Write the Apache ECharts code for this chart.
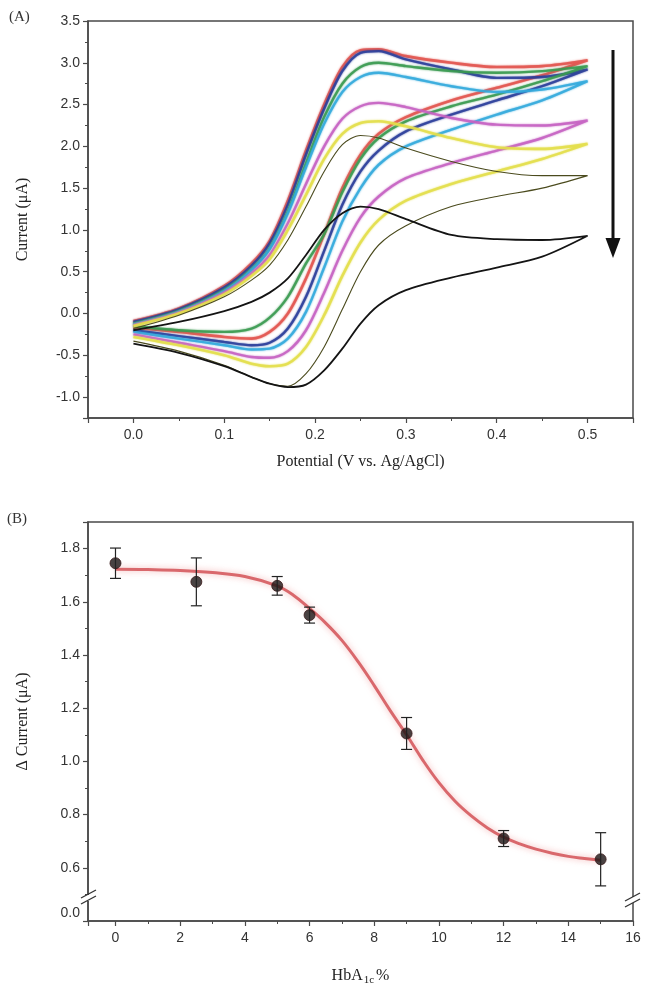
<!DOCTYPE html>
<html><head><meta charset="utf-8">
<script src="https://cdn.jsdelivr.net/npm/echarts@6/dist/echarts.min.js"></script>
<style>html,body{margin:0;padding:0;background:#fff}#c{width:646px;height:988px}</style>
</head><body><div id="c"></div>
<script>
// ---------- Panel A: cyclic voltammograms ----------
const vForward = [0, 0.05, 0.1, 0.13, 0.15, 0.17, 0.19, 0.21, 0.23, 0.25, 0.27, 0.3, 0.35, 0.4, 0.45, 0.5];
const vReverse = [0.45, 0.4, 0.35, 0.3, 0.27, 0.25, 0.23, 0.21, 0.19, 0.17, 0.15, 0.13, 0.1, 0.05, 0];

const cvNames = ['red', 'blue', 'green', 'cyan', 'magenta', 'yellow', 'olive', 'black'];
const cvColors = ['#e2554f', '#2a3d9a', '#3a9a50', '#33a9dc', '#c662c2', '#e3de4a', '#4b4b1e', '#141414'];
const cvWidths = [2.6, 2.4, 2.4, 2.4, 2.4, 2.6, 1.1, 1.8];

const fwdRed     = [-0.09, 0.06, 0.33, 0.6, 0.87, 1.35, 1.95, 2.5, 2.95, 3.15, 3.16, 3.08, 3.0, 2.95, 2.96, 3.03];
const fwdBlue    = [-0.1, 0.05, 0.31, 0.57, 0.84, 1.3, 1.9, 2.45, 2.9, 3.12, 3.14, 3.04, 2.92, 2.82, 2.83, 2.92];
const fwdGreen   = [-0.12, 0.03, 0.28, 0.53, 0.78, 1.22, 1.8, 2.35, 2.75, 2.95, 3.0, 2.96, 2.9, 2.88, 2.9, 2.96];
const fwdCyan    = [-0.13, 0.02, 0.27, 0.52, 0.77, 1.2, 1.75, 2.27, 2.65, 2.83, 2.88, 2.83, 2.72, 2.65, 2.68, 2.78];
const fwdMagenta = [-0.14, 0.01, 0.25, 0.48, 0.7, 1.08, 1.55, 2.0, 2.33, 2.48, 2.52, 2.47, 2.34, 2.26, 2.25, 2.31];
const fwdYellow  = [-0.15, 0.0, 0.23, 0.45, 0.65, 1.0, 1.42, 1.85, 2.15, 2.28, 2.3, 2.24, 2.1, 1.99, 1.97, 2.03];
const fwdOlive   = [-0.18, -0.02, 0.2, 0.4, 0.58, 0.88, 1.28, 1.7, 2.02, 2.13, 2.1, 1.98, 1.82, 1.7, 1.65, 1.65];
const fwdBlack   = [-0.2, -0.1, 0.03, 0.14, 0.25, 0.42, 0.7, 1.0, 1.2, 1.28, 1.25, 1.13, 0.94, 0.89, 0.88, 0.93];

const revRed     = [2.85, 2.7, 2.55, 2.35, 2.15, 1.9, 1.5, 0.95, 0.42, 0.0, -0.22, -0.3, -0.28, -0.22, -0.17];
const revBlue    = [2.72, 2.55, 2.38, 2.18, 1.95, 1.7, 1.3, 0.75, 0.2, -0.18, -0.35, -0.38, -0.34, -0.27, -0.2];
const revGreen   = [2.78, 2.62, 2.48, 2.3, 2.1, 1.85, 1.45, 0.95, 0.6, 0.2, -0.05, -0.18, -0.22, -0.2, -0.15];
const revCyan    = [2.55, 2.38, 2.2, 2.0, 1.78, 1.5, 1.1, 0.55, 0.02, -0.3, -0.42, -0.43, -0.38, -0.3, -0.22];
const revMagenta = [2.1, 1.95, 1.8, 1.62, 1.4, 1.15, 0.75, 0.25, -0.2, -0.45, -0.53, -0.52, -0.45, -0.35, -0.25];
const revYellow  = [1.85, 1.7, 1.55, 1.35, 1.12, 0.85, 0.45, -0.02, -0.4, -0.6, -0.63, -0.6, -0.5, -0.38, -0.28];
const revOlive   = [1.5, 1.4, 1.28, 1.05, 0.82, 0.5, 0.05, -0.4, -0.72, -0.87, -0.84, -0.76, -0.62, -0.45, -0.33];
const revBlack   = [0.68, 0.55, 0.43, 0.28, 0.1, -0.12, -0.42, -0.68, -0.85, -0.88, -0.84, -0.76, -0.63, -0.47, -0.36];

const cvForward = [fwdRed, fwdBlue, fwdGreen, fwdCyan, fwdMagenta, fwdYellow, fwdOlive, fwdBlack];
const cvReverse = [revRed, revBlue, revGreen, revCyan, revMagenta, revYellow, revOlive, revBlack];

// ---------- Panel B: calibration ----------
const hbX   = [0, 2.5, 5, 6, 9, 12, 15];
const hbY   = [1.745, 1.675, 1.66, 1.55, 1.105, 0.71, 0.632];
const hbErr = [0.057, 0.09, 0.035, 0.03, 0.06, 0.03, 0.1];

const fitX = [0, 1, 2, 3, 4, 5, 5.5, 6, 6.5, 7, 7.5, 8, 8.5, 9, 9.5, 10, 10.5, 11, 11.5, 12, 12.5, 13, 13.5, 14, 14.5, 15];
const fitY = [1.722, 1.721, 1.718, 1.71, 1.695, 1.66, 1.625, 1.575, 1.52, 1.455, 1.375, 1.285, 1.19, 1.1, 1.005, 0.92, 0.85, 0.795, 0.75, 0.715, 0.69, 0.67, 0.655, 0.643, 0.635, 0.628];

const bYTickValues = [0.4, 0.6, 0.8, 1.0, 1.2, 1.4, 1.6, 1.8];
const bYTickLabels = ['0.0', '0.6', '0.8', '1.0', '1.2', '1.4', '1.6', '1.8'];

// ---------- chart ----------
const chart = echarts.init(document.getElementById('c'), null, {renderer: 'canvas'});
const tickFont = {fontFamily: 'Liberation Sans, Arial, sans-serif', fontSize: 14, color: '#333'};
const serif = 'Liberation Serif, Times New Roman, serif';
const axisCol = '#4a4a4a';

function baseAxis(extra) {
  return Object.assign({
    axisLine: {show: true, onZero: false, lineStyle: {color: axisCol, width: 1.5}},
    axisTick: {show: true, inside: false, length: 5, lineStyle: {color: axisCol, width: 1.2}},
    minorTick: {show: true, splitNumber: 2, length: 3, lineStyle: {color: axisCol, width: 1}},
    splitLine: {show: false},
    nameTextStyle: {fontFamily: serif, fontSize: 16, color: '#222'}
  }, extra);
}

const cvSeries = cvNames.map((n, k) => ({
  name: n, type: 'line', xAxisIndex: 0, yAxisIndex: 0,
  data: vForward.map((v, i) => [v, cvForward[k][i]]).concat(vReverse.map((v, i) => [v, cvReverse[k][i]])),
  smooth: 0.3, showSymbol: false, symbol: 'none',
  lineStyle: {color: cvColors[k], width: cvWidths[k], opacity: k >= 6 ? 1 : 0.85,
    shadowBlur: k >= 6 ? 0 : 2, shadowColor: cvColors[k]},
  z: 2 + k
}));

const errData = hbX.map((x, i) => [x, hbY[i] - hbErr[i], hbY[i] + hbErr[i]]);

const option = {
  animation: false,
  backgroundColor: '#fff',
  grid: [
    {left: 88, top: 21, right: 13, height: 397, show: true, borderColor: axisCol, borderWidth: 1.5, backgroundColor: 'transparent'},
    {left: 88, top: 522, right: 13, height: 399, show: true, borderColor: axisCol, borderWidth: 1.5, backgroundColor: 'transparent'}
  ],
  xAxis: [
    baseAxis({type: 'value', gridIndex: 0, min: -0.05, max: 0.55, splitNumber: 6,
      name: 'Potential (V vs. Ag/AgCl)', nameLocation: 'middle', nameGap: 36,
      axisLabel: Object.assign({showMinLabel: false, showMaxLabel: false, margin: 10,
        formatter: v => v.toFixed(1)}, tickFont)}),
    baseAxis({type: 'value', gridIndex: 1, min: -0.85, max: 16, splitNumber: 8,
      name: 'HbA{sub|1c}%', nameLocation: 'middle', nameGap: 44,
      nameTextStyle: {fontFamily: serif, fontSize: 16, color: '#222',
        rich: {sub: {fontFamily: serif, fontSize: 11, color: '#222', verticalAlign: 'bottom', padding: [10, 2, 0, 1]}}},
      axisLabel: Object.assign({showMinLabel: false, showMaxLabel: true, margin: 10,
        formatter: v => String(Math.round(v))}, tickFont)})
  ],
  yAxis: [
    baseAxis({type: 'value', gridIndex: 0, min: -1.25, max: 3.5, splitNumber: 10,
      name: 'Current (μA)', nameLocation: 'middle', nameGap: 57,
      axisLabel: Object.assign({showMinLabel: false, margin: 8, formatter: v => v.toFixed(1)}, tickFont)}),
    baseAxis({type: 'value', gridIndex: 1, min: 0.4, max: 1.9, interval: 0.2,
      name: 'Δ Current (μA)', nameLocation: 'middle', nameGap: 57,
      axisLabel: Object.assign({showMaxLabel: false, margin: 8,
        formatter: v => {
          const i = bYTickValues.findIndex(t => Math.abs(t - v) < 1e-6);
          if (i < 0) return '';
          return i === 0 ? '{z|' + bYTickLabels[i] + '}' : bYTickLabels[i];
        },
        rich: {z: Object.assign({padding: [0, 0, 16, 0]}, tickFont)}}, tickFont)})
  ],
  series: cvSeries.concat([
    {type: 'line', xAxisIndex: 1, yAxisIndex: 1, data: fitX.map((x, i) => [x, fitY[i]]),
      smooth: 0.4, showSymbol: false, symbol: 'none', z: 3,
      lineStyle: {color: '#d9686c', width: 3, shadowBlur: 6, shadowColor: 'rgba(235,120,120,0.55)'}},
    {type: 'custom', xAxisIndex: 1, yAxisIndex: 1, data: errData, z: 5,
      encode: {x: 0, y: [1, 2]},
      renderItem: (params, api) => {
        const x = api.value(0);
        const lo = api.coord([x, api.value(1)]);
        const hi = api.coord([x, api.value(2)]);
        const w = 5.5;
        const st = {stroke: '#222', lineWidth: 1.2};
        return {type: 'group', children: [
          {type: 'line', shape: {x1: hi[0], y1: hi[1], x2: lo[0], y2: lo[1]}, style: st},
          {type: 'line', shape: {x1: hi[0] - w, y1: hi[1], x2: hi[0] + w, y2: hi[1]}, style: st},
          {type: 'line', shape: {x1: lo[0] - w, y1: lo[1], x2: lo[0] + w, y2: lo[1]}, style: st}
        ]};
      }},
    {type: 'scatter', xAxisIndex: 1, yAxisIndex: 1, data: hbX.map((x, i) => [x, hbY[i]]),
      symbol: 'circle', symbolSize: 11, z: 4,
      itemStyle: {color: '#1c1414', borderColor: '#3a1a1a', borderWidth: 1}}
  ]),
  graphic: [
    {type: 'text', left: 9, top: 10, style: {text: '(A)', font: '15px ' + serif, fill: '#333'}},
    {type: 'text', left: 7, top: 512, style: {text: '(B)', font: '15px ' + serif, fill: '#333'}},
    // arrow in panel A
    {type: 'line', shape: {x1: 613, y1: 50, x2: 613, y2: 244}, style: {stroke: '#111', lineWidth: 3}, z: 20},
    {type: 'polygon', shape: {points: [[605.5, 238], [620.5, 238], [613, 258]]}, style: {fill: '#111'}, z: 20},
    // axis-break marks in panel B
    {type: 'rect', shape: {x: 84, y: 895, width: 8, height: 6}, style: {fill: '#fff'}, z: 20},
    {type: 'line', shape: {x1: 81, y1: 898, x2: 96, y2: 890}, style: {stroke: '#333', lineWidth: 1.2}, z: 21},
    {type: 'line', shape: {x1: 81, y1: 904, x2: 96, y2: 896}, style: {stroke: '#333', lineWidth: 1.2}, z: 21},
    {type: 'rect', shape: {x: 629, y: 897, width: 8, height: 6}, style: {fill: '#fff'}, z: 20},
    {type: 'line', shape: {x1: 625, y1: 901, x2: 640, y2: 893}, style: {stroke: '#333', lineWidth: 1.2}, z: 21},
    {type: 'line', shape: {x1: 625, y1: 907, x2: 640, y2: 899}, style: {stroke: '#333', lineWidth: 1.2}, z: 21}
  ]
};
chart.setOption(option);
</script>
</body></html>
